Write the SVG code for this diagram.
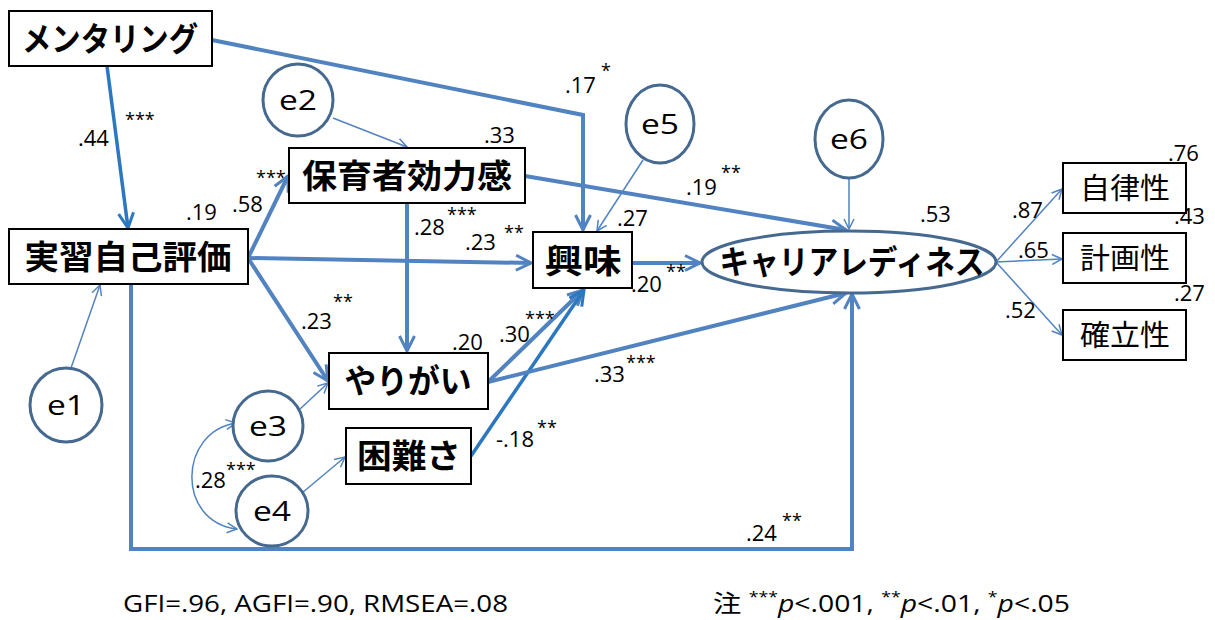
<svg xmlns="http://www.w3.org/2000/svg" width="1215" height="620" viewBox="0 0 1215 620">
<style>
.box{fill:#fff;stroke:#000;stroke-width:2}
.lat{fill:#fff;stroke:#46698f;stroke-width:3}
.nt{font-family:"Noto Sans CJK JP",sans-serif;font-weight:bold;font-size:33px;fill:#000;text-anchor:middle}
.rt{font-family:"Noto Sans CJK JP",sans-serif;font-size:29px;fill:#000;text-anchor:middle}
.et{font-family:"Open Sans","Liberation Sans",sans-serif;font-size:28px;fill:#000;text-anchor:middle}
.lb{font-family:"Open Sans","Liberation Sans",sans-serif;font-size:22px;fill:#000}
.st{font-family:"Open Sans","Liberation Sans",sans-serif;font-size:18px;fill:#000}
.ft{font-family:"Open Sans","Liberation Sans","Noto Sans CJK JP",sans-serif;font-size:24px;fill:#000}
.thick{fill:none;stroke:#5283c1;stroke-width:4;marker-end:url(#aT)}
.dark{fill:none;stroke:#2b78c0;stroke-width:3.5;marker-end:url(#aD)}
.thin{fill:none;stroke:#5283c1;stroke-width:1.5;marker-end:url(#aS)}
</style>
<defs>
<marker id="aT" viewBox="0 0 12 12" refX="11" refY="6" markerWidth="18" markerHeight="18" markerUnits="userSpaceOnUse" orient="auto"><path d="M1,1 L11,6 L1,11" fill="none" stroke="#5283c1" stroke-width="2"/></marker>
<marker id="aD" viewBox="0 0 12 12" refX="11" refY="6" markerWidth="18" markerHeight="18" markerUnits="userSpaceOnUse" orient="auto"><path d="M1,1 L11,6 L1,11" fill="none" stroke="#2b78c0" stroke-width="2"/></marker>
<marker id="aS" viewBox="0 0 12 12" refX="11" refY="6" markerWidth="12" markerHeight="12" markerUnits="userSpaceOnUse" orient="auto"><path d="M1,1 L11,6 L1,11" fill="none" stroke="#5283c1" stroke-width="1.5"/></marker>
<marker id="aSs" viewBox="0 0 12 12" refX="1" refY="6" markerWidth="12" markerHeight="12" markerUnits="userSpaceOnUse" orient="auto"><path d="M11,1 L1,6 L11,11" fill="none" stroke="#5283c1" stroke-width="1.5"/></marker>
</defs>
<rect width="1215" height="620" fill="#fff"/>

<g id="connectors">
<path class="dark" d="M107,66 L128,228"/>
<path class="thick" d="M212,40 L583,115 L583,230"/>
<path class="thin" d="M333,118 L407,147"/>
<path class="thick" d="M248,258 L288,176"/>
<path class="thick" d="M248,258 L531,263"/>
<path class="thick" d="M248,258 L328,381"/>
<path class="thick" d="M407,203 L407,351"/>
<path class="thick" d="M525,176 L846,230"/>
<path class="thin" d="M643,160 L597,231"/>
<path class="thin" d="M849,178 L849,229"/>
<path class="thick" d="M632,263 L700,263"/>
<path class="thick" d="M488,382 L583,290"/>
<path class="dark" d="M471,456 L584,290"/>
<path class="thick" d="M488,382 L846,293"/>
<path class="thick" d="M131,284 L131,549 L852,549 L852,294"/>
<path class="thin" d="M71,368 L100,285"/>
<path class="thin" d="M300,409 L328,383"/>
<path class="thin" d="M302,493 L345,457"/>
<path class="thin" d="M236,423 C178,432 176,522 237,529" marker-start="url(#aSs)"/>
<path class="thin" d="M996,262 L1062,189"/>
<path class="thin" d="M996,262 L1062,259"/>
<path class="thin" d="M996,262 L1062,335"/>
</g>

<g id="mentoring"><rect class="box" x="9" y="11" width="203" height="55"/><text class="nt" x="110" y="51" font-size="31" textLength="176" lengthAdjust="spacingAndGlyphs">メンタリング</text></g>
<g id="jisshu"><rect class="box" x="9" y="229" width="239" height="55"/><text class="nt" x="128" y="269" textLength="207" lengthAdjust="spacingAndGlyphs">実習自己評価</text></g>
<g id="kouryoku"><rect class="box" x="289" y="148" width="236" height="55"/><text class="nt" x="407" y="188" textLength="210" lengthAdjust="spacingAndGlyphs">保育者効力感</text></g>
<g id="kyoumi"><rect class="box" x="533" y="232" width="99" height="56"/><text class="nt" x="583" y="273" textLength="77" lengthAdjust="spacingAndGlyphs">興味</text></g>
<g id="yarigai"><rect class="box" x="329" y="353" width="159" height="56"/><text class="nt" x="408" y="393" textLength="127" lengthAdjust="spacingAndGlyphs">やりがい</text></g>
<g id="konnan"><rect class="box" x="346" y="428" width="125" height="56"/><text class="nt" x="409" y="468" textLength="104" lengthAdjust="spacingAndGlyphs">困難さ</text></g>
<g id="career"><ellipse class="lat" cx="849" cy="262" rx="147" ry="31"/><text class="nt" x="852" y="274" font-size="31" textLength="265" lengthAdjust="spacingAndGlyphs">キャリアレディネス</text></g>
<g id="jiritsu"><rect class="box" x="1063" y="163" width="123" height="50"/><text class="rt" x="1125" y="199" textLength="90" lengthAdjust="spacingAndGlyphs">自律性</text></g>
<g id="keikaku"><rect class="box" x="1063" y="233" width="123" height="50"/><text class="rt" x="1125" y="269" textLength="90" lengthAdjust="spacingAndGlyphs">計画性</text></g>
<g id="kakuritsu"><rect class="box" x="1063" y="310" width="123" height="50"/><text class="rt" x="1125" y="346" textLength="90" lengthAdjust="spacingAndGlyphs">確立性</text></g>
<g id="e1"><ellipse class="lat" cx="66" cy="405" rx="36" ry="37"/><text class="et" x="66" y="415" textLength="38" lengthAdjust="spacingAndGlyphs">e1</text></g>
<g id="e2"><ellipse class="lat" cx="298" cy="100" rx="35" ry="36"/><text class="et" x="298" y="110" textLength="38" lengthAdjust="spacingAndGlyphs">e2</text></g>
<g id="e3"><ellipse class="lat" cx="268" cy="426" rx="35" ry="35"/><text class="et" x="268" y="436" textLength="38" lengthAdjust="spacingAndGlyphs">e3</text></g>
<g id="e4"><ellipse class="lat" cx="272" cy="511" rx="36" ry="35"/><text class="et" x="272" y="521" textLength="38" lengthAdjust="spacingAndGlyphs">e4</text></g>
<g id="e5"><ellipse class="lat" cx="660" cy="124" rx="34" ry="39"/><text class="et" x="660" y="134" textLength="38" lengthAdjust="spacingAndGlyphs">e5</text></g>
<g id="e6"><ellipse class="lat" cx="849" cy="139" rx="34" ry="39"/><text class="et" x="849" y="149" textLength="38" lengthAdjust="spacingAndGlyphs">e6</text></g>

<g id="labels">
<text class="lb" x="78" y="146">.44</text><text class="st" x="125" y="126">***</text>
<text class="lb" x="565" y="93">.17</text><text class="st" x="601" y="77">*</text>
<text class="lb" x="484" y="143">.33</text>
<text class="lb" x="186" y="220">.19</text>
<text class="lb" x="232" y="212">.58</text><text class="st" x="256" y="184">***</text>
<text class="lb" x="414" y="235">.28</text><text class="st" x="447" y="221">***</text>
<text class="lb" x="465" y="250">.23</text><text class="st" x="504" y="239">**</text>
<text class="lb" x="617" y="226">.27</text>
<text class="lb" x="686" y="195">.19</text><text class="st" x="721" y="179">**</text>
<text class="lb" x="920" y="222">.53</text>
<text class="lb" x="631" y="292">.20</text><text class="st" x="666" y="278">**</text>
<text class="lb" x="1012" y="218">.87</text>
<text class="lb" x="1018" y="258">.65</text>
<text class="lb" x="1005" y="318">.52</text>
<text class="lb" x="1168" y="161">.76</text>
<text class="lb" x="1174" y="224">.43</text>
<text class="lb" x="1174" y="301">.27</text>
<text class="lb" x="301" y="329">.23</text><text class="st" x="333" y="308">**</text>
<text class="lb" x="452" y="350">.20</text>
<text class="lb" x="499" y="342">.30</text><text class="st" x="525" y="325">***</text>
<text class="lb" x="594" y="382">.33</text><text class="st" x="626" y="369">***</text>
<text class="lb" x="496" y="447">-.18</text><text class="st" x="537" y="434">**</text>
<text class="lb" x="195" y="488">.28</text><text class="st" x="226" y="476">***</text>
<text class="lb" x="746" y="541">.24</text><text class="st" x="782" y="527">**</text>
<text class="ft" x="123" y="612" textLength="385" lengthAdjust="spacingAndGlyphs">GFI=.96, AGFI=.90, RMSEA=.08</text>
<text class="ft" x="713" y="612" textLength="357" lengthAdjust="spacingAndGlyphs">注 <tspan font-size="15" dy="-10">***</tspan><tspan font-style="italic" dy="10">p</tspan>&lt;.001, <tspan font-size="15" dy="-10">**</tspan><tspan font-style="italic" dy="10">p</tspan>&lt;.01, <tspan font-size="15" dy="-10">*</tspan><tspan font-style="italic" dy="10">p</tspan>&lt;.05</text>
</g>
</svg>
